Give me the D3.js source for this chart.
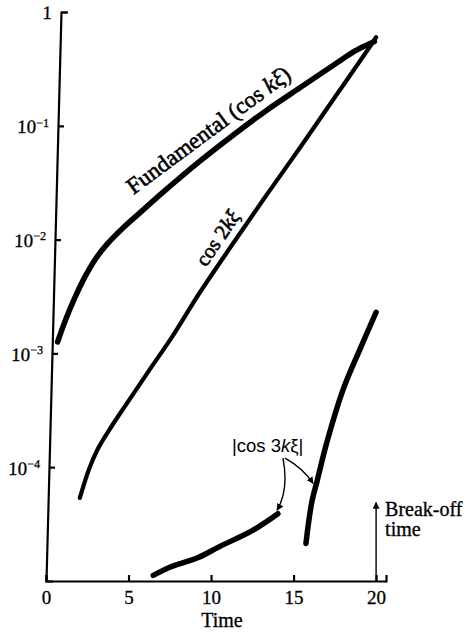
<!DOCTYPE html>
<html>
<head>
<meta charset="utf-8">
<script src="https://cdn.jsdelivr.net/npm/d3@7"></script>
<style>
  html, body { margin: 0; padding: 0; background: #fff; }
  svg { display: block; }
  .serif { font-family: "Liberation Serif", "Times New Roman", "DejaVu Serif", serif; }
  .sans { font-family: "Liberation Sans", Arial, "DejaVu Sans", sans-serif; }
</style>
</head>
<body>
<script>
// Growth of the Fourier components of the disturbance (log amplitude vs time)
const fundamentalTime = [0.7, 1.2, 1.75, 2.35, 3.0, 3.7, 4.65, 5.65, 7.2, 9.25, 11.35, 13.4, 15.45, 17.5, 18.75, 19.6, 19.9];
const fundamentalAmp  = [1.26e-3, 2.0e-3, 3.09e-3, 4.68e-3, 6.76e-3, 9.12e-3, 1.26e-2, 1.70e-2, 2.69e-2, 4.79e-2, 8.3e-2, 0.138, 0.219, 0.347, 0.457, 0.525, 0.55];

const secondTime = [2.05, 2.6, 3.1, 3.8, 4.85, 6.2, 7.75, 9.25, 11.35, 13.4, 15.45, 17.5, 19.6, 20.0];
const secondAmp  = [5.37e-5, 9.55e-5, 1.41e-4, 2.09e-4, 3.55e-4, 6.92e-4, 1.48e-3, 3.31e-3, 9.33e-3, 2.51e-2, 6.61e-2, 0.178, 0.49, 0.60];

const thirdEarlyTime = [6.5, 7.5, 9.15, 10.5, 12.55, 14.05];
const thirdEarlyAmp  = [1.12e-5, 1.32e-5, 1.59e-5, 2.0e-5, 2.8e-5, 3.9e-5];

const thirdLateTime = [15.75, 16.1, 16.45, 17.0, 18.0, 19.0, 20.0];
const thirdLateAmp  = [2.14e-5, 4.9e-5, 7.8e-5, 1.62e-4, 4.8e-4, 1.07e-3, 2.3e-3];

const xTicks = [0, 5, 10, 15, 20];
const yTicks = [1, 1e-1, 1e-2, 1e-3, 1e-4];
const yTickExponents = [null, "−1", "−2", "−3", "−4"];
const breakOffTime = 20;
const breakOffArrowTop = 4.9e-5;

const width = 469, height = 641;

const x = d3.scaleLinear().domain([0, 20.6]).range([46, 386]);
const y = d3.scaleLog().domain([1e-5, 1]).range([581, 12]);

const svg = d3.select("body").append("svg")
  .attr("width", width)
  .attr("height", height)
  .attr("viewBox", `0 0 ${width} ${height}`);

const defs = svg.append("defs");
defs.append("marker")
  .attr("id", "head")
  .attr("viewBox", "0 0 10 10")
  .attr("refX", 9).attr("refY", 5)
  .attr("markerWidth", 7).attr("markerHeight", 7)
  .attr("markerUnits", "userSpaceOnUse")
  .attr("orient", "auto")
  .append("path").attr("d", "M0,0L10,5L0,10Z").attr("fill", "#000");

// ---- axes ----
const xAxis = d3.axisBottom(x)
  .tickValues(xTicks)
  .tickSizeInner(-6)
  .tickSizeOuter(-6)
  .tickPadding(10)
  .tickFormat(d3.format("d"));

const gx = svg.append("g")
  .attr("class", "serif")
  .attr("transform", `translate(0,${y.range()[0]})`)
  .call(xAxis);

// the printed vertical axis leans slightly to the right going up
const lean = 15 / (y.range()[0] - y.range()[1]);
const leanDeg = Math.atan(lean) * 180 / Math.PI;

const yAxis = d3.axisLeft(y)
  .tickValues(yTicks)
  .tickSizeInner(-6)
  .tickSizeOuter(-7)
  .tickPadding(9)
  .tickFormat(() => "");

const gy = svg.append("g")
  .attr("class", "serif")
  .attr("transform", `translate(${x(0) + y.range()[0] * lean},0) skewX(${-leanDeg})`)
  .call(yAxis);

[gx, gy].forEach(g => {
  g.select(".domain").attr("stroke", "#000").attr("stroke-width", 2.2);
  g.selectAll(".tick line").attr("stroke", "#000").attr("stroke-width", 2.2);
  g.selectAll(".tick text")
    .attr("fill", "#000")
    .attr("font-size", 19)
    .attr("font-family", null)
    .attr("stroke", "#000").attr("stroke-width", 0.3);
});

// powers of ten with raised exponents
gy.selectAll(".tick text").each(function(d, i) {
  const t = d3.select(this).attr("dy", "0.36em");
  t.text(null);
  if (yTickExponents[i] === null) {
    t.append("tspan").text("1");
  } else {
    t.append("tspan").text("10");
    t.append("tspan").attr("font-size", 12).attr("dy", "-0.55em").text(yTickExponents[i]);
  }
});

svg.append("text")
  .attr("class", "serif")
  .attr("x", (x(0) + x(20.6)) / 2 + 6)
  .attr("y", 627)
  .attr("text-anchor", "middle")
  .attr("font-size", 20)
  .attr("stroke", "#000").attr("stroke-width", 0.3)
  .text("Time");

// ---- curves ----
const line = d3.line()
  .x(d => x(d[0]))
  .y(d => y(d[1]))
  .curve(d3.curveCatmullRom.alpha(0.5));

const series = [
  { t: fundamentalTime, v: fundamentalAmp, w: 5.5 },
  { t: secondTime, v: secondAmp, w: 4.2 },
  { t: thirdEarlyTime, v: thirdEarlyAmp, w: 5.5 },
  { t: thirdLateTime, v: thirdLateAmp, w: 5.5 }
];

svg.append("g").selectAll("path")
  .data(series)
  .join("path")
  .attr("d", s => line(s.t.map((t, i) => [t, s.v[i]])))
  .attr("fill", "none")
  .attr("stroke", "#000")
  .attr("stroke-width", s => s.w)
  .attr("stroke-linecap", "round")
  .attr("stroke-linejoin", "round");

// ---- labels on the curves ----
const fundLabel = svg.append("text")
  .attr("class", "serif")
  .attr("transform", `translate(${x(5.95)},${y(1.84e-2)}) rotate(-36.5)`)
  .attr("dy", -18)
  .attr("font-size", 23)
  .attr("stroke", "#000").attr("stroke-width", 0.6);
fundLabel.append("tspan").text("Fundamental (cos ");
fundLabel.append("tspan").attr("font-style", "italic").text("kξ");
fundLabel.append("tspan").text(")");

const secondLabel = svg.append("text")
  .attr("class", "serif")
  .attr("transform", `translate(${x(11.2)},${y(8.6e-3)}) rotate(-56)`)
  .attr("dy", -9)
  .attr("text-anchor", "middle")
  .attr("font-size", 21)
  .attr("stroke", "#000").attr("stroke-width", 0.6);
secondLabel.append("tspan").text("cos 2");
secondLabel.append("tspan").attr("font-style", "italic").text("kξ");

const thirdLabel = svg.append("text")
  .attr("class", "sans")
  .attr("x", x(11.27))
  .attr("y", y(1.35e-4))
  .attr("font-size", 18.5);
thirdLabel.append("tspan").text("|cos 3");
thirdLabel.append("tspan").attr("font-style", "italic").text("k");
thirdLabel.append("tspan").text("ξ|");

// pointers from the |cos 3kξ| label to both branches
const p0 = [x(14.36), y(1.2e-4)];
const p1 = [x(14.0), y(4.2e-5)];
const p2 = [x(16.18), y(7.2e-5)];
svg.append("path")
  .attr("d", `M${p0[0]},${p0[1]}Q${p0[0] + 6},${(p0[1] + p1[1]) / 2 + 6} ${p1[0]},${p1[1]}`)
  .attr("fill", "none").attr("stroke", "#000").attr("stroke-width", 1.4)
  .attr("marker-end", "url(#head)");
svg.append("path")
  .attr("d", `M${p0[0] + 2},${p0[1]}Q${p0[0] + 20},${p0[1] + 10} ${p2[0]},${p2[1]}`)
  .attr("fill", "none").attr("stroke", "#000").attr("stroke-width", 1.4)
  .attr("marker-end", "url(#head)");

// break-off time marker
svg.append("line")
  .attr("x1", x(breakOffTime)).attr("x2", x(breakOffTime))
  .attr("y1", y(1e-5)).attr("y2", y(breakOffArrowTop))
  .attr("stroke", "#000").attr("stroke-width", 1.4)
  .attr("marker-end", "url(#head)");

const bo = svg.append("text")
  .attr("class", "serif")
  .attr("x", x(breakOffTime) + 9)
  .attr("y", y(breakOffArrowTop) + 14)
  .attr("font-size", 20)
  .attr("stroke", "#000").attr("stroke-width", 0.3);
bo.append("tspan").text("Break-off");
bo.append("tspan").attr("x", x(breakOffTime) + 9).attr("dy", 20).text("time");
</script>
</body>
</html>
